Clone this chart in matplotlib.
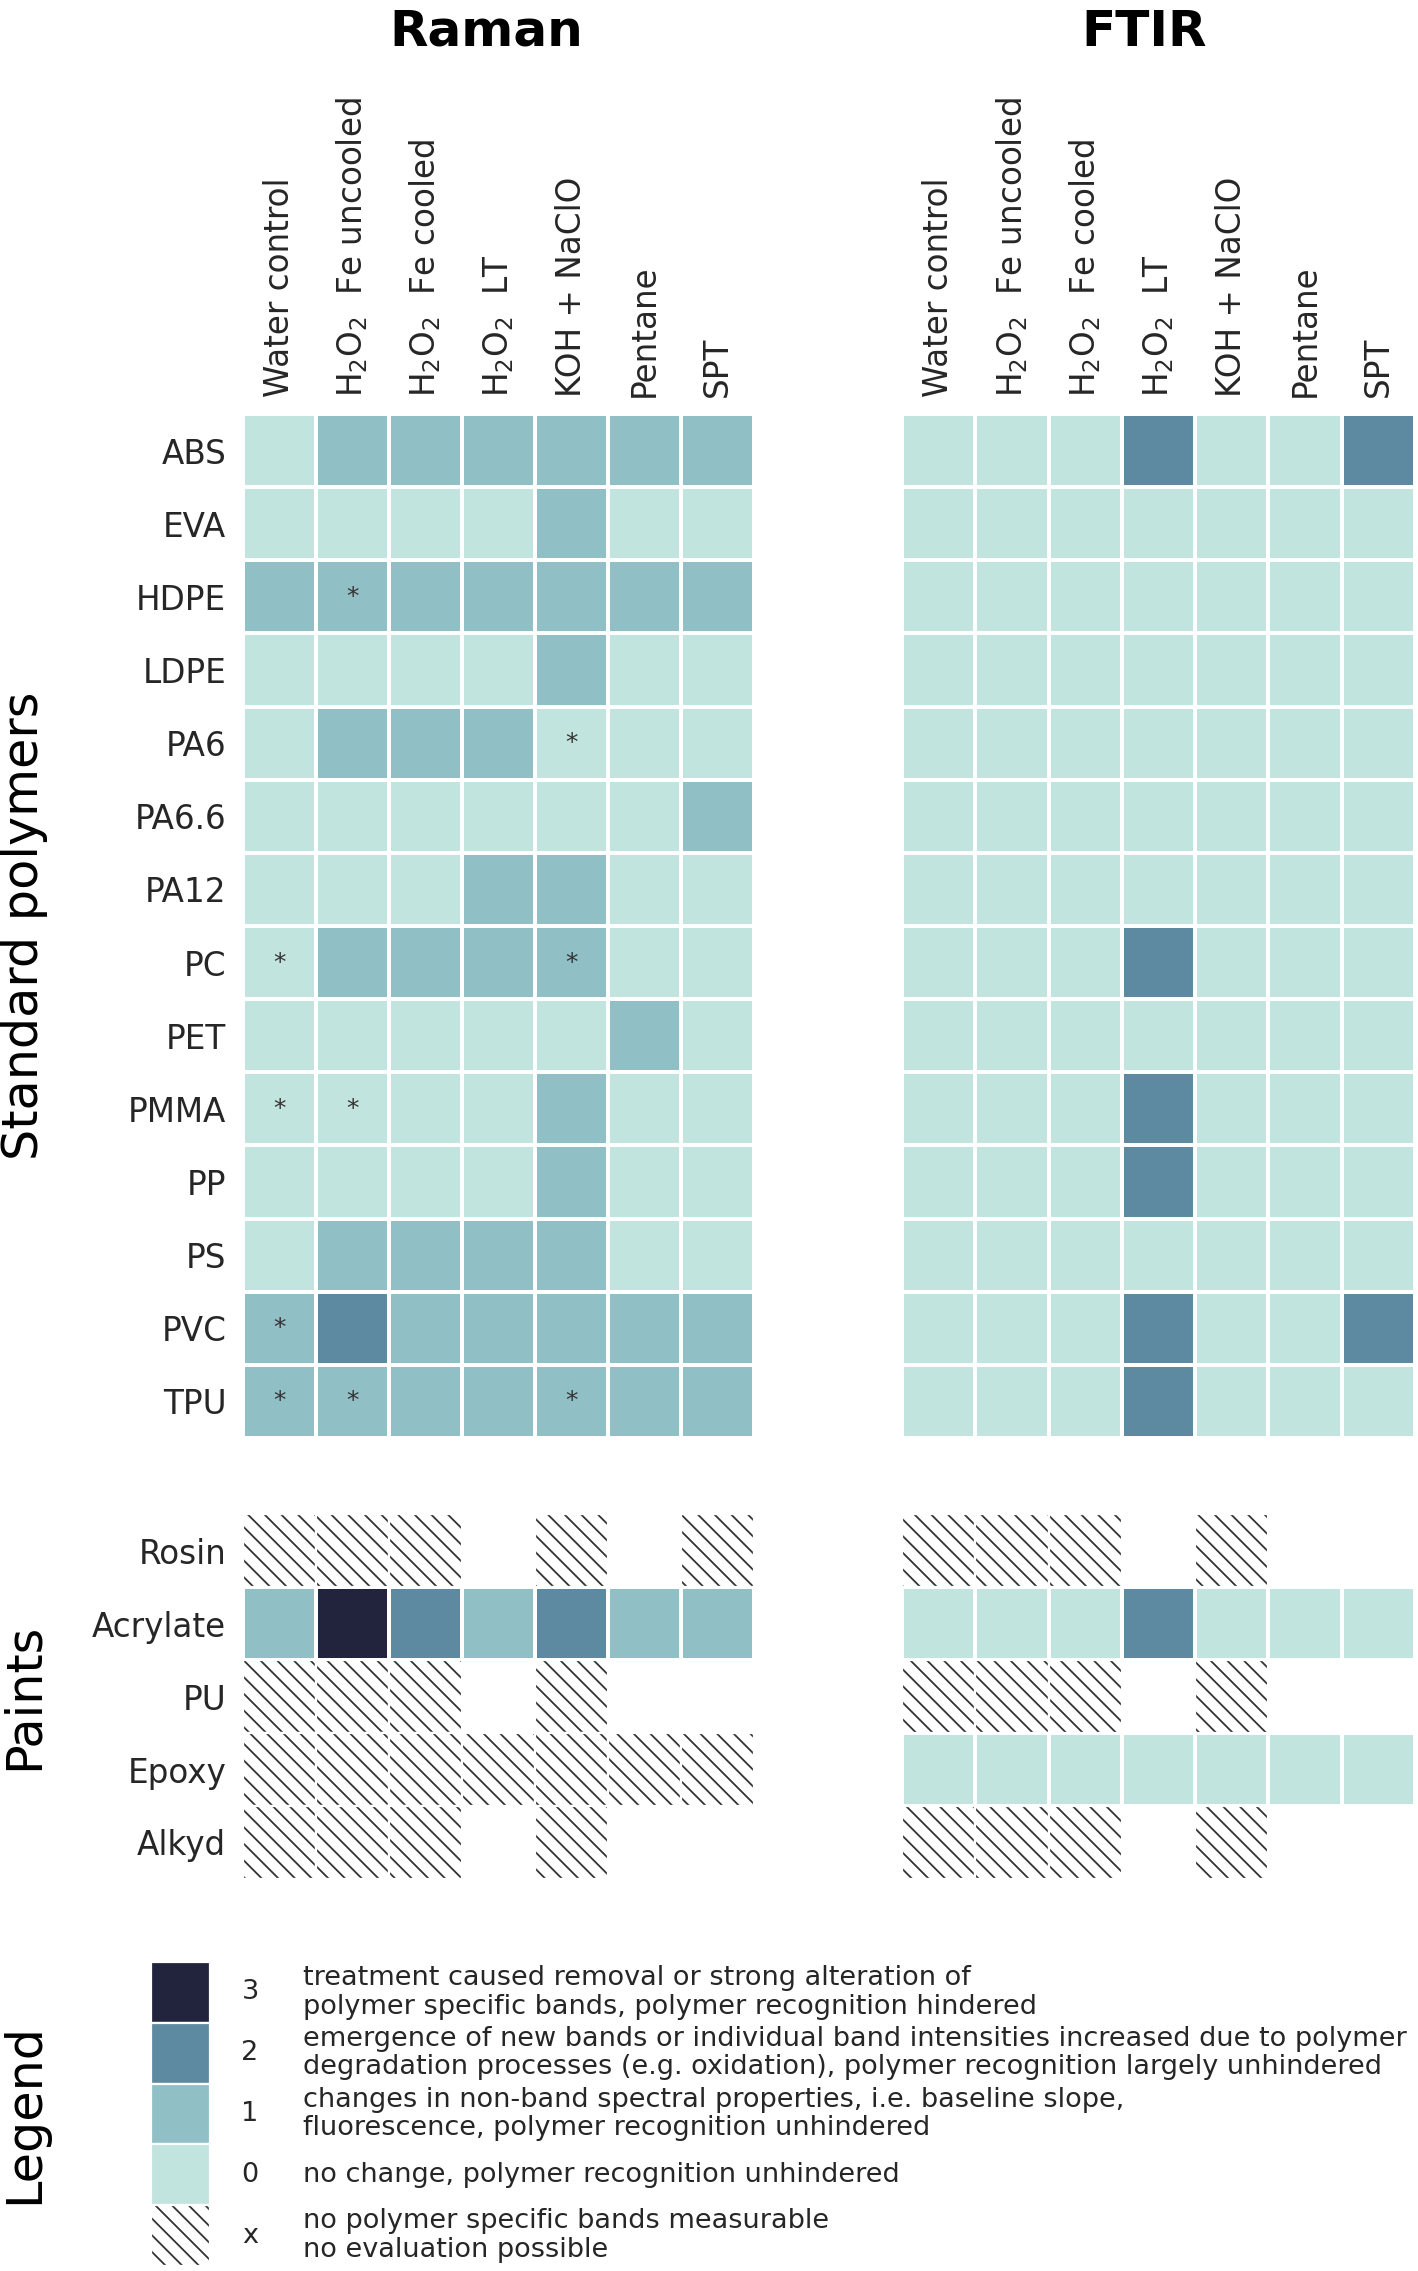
import numpy as np
import matplotlib.pyplot as plt
from matplotlib.colors import ListedColormap, BoundaryNorm
from matplotlib.patches import Rectangle

plt.rcParams['font.family'] = 'DejaVu Sans'
plt.rcParams['hatch.linewidth'] = 1.3

X = -1       # no polymer specific bands measurable
N = np.nan   # not measured

treatments = ['Water control', r'H$_2$O$_2$  Fe uncooled', r'H$_2$O$_2$  Fe cooled',
              r'H$_2$O$_2$  LT', 'KOH + NaClO', 'Pentane', 'SPT']
polymers = ['ABS', 'EVA', 'HDPE', 'LDPE', 'PA6', 'PA6.6', 'PA12', 'PC', 'PET',
            'PMMA', 'PP', 'PS', 'PVC', 'TPU']
paints = ['Rosin', 'Acrylate', 'PU', 'Epoxy', 'Alkyd']

raman_polymers = [
    [0, 1, 1, 1, 1, 1, 1],
    [0, 0, 0, 0, 1, 0, 0],
    [1, 1, 1, 1, 1, 1, 1],
    [0, 0, 0, 0, 1, 0, 0],
    [0, 1, 1, 1, 0, 0, 0],
    [0, 0, 0, 0, 0, 0, 1],
    [0, 0, 0, 1, 1, 0, 0],
    [0, 1, 1, 1, 1, 0, 0],
    [0, 0, 0, 0, 0, 1, 0],
    [0, 0, 0, 0, 1, 0, 0],
    [0, 0, 0, 0, 1, 0, 0],
    [0, 1, 1, 1, 1, 0, 0],
    [1, 2, 1, 1, 1, 1, 1],
    [1, 1, 1, 1, 1, 1, 1],
]
raman_stars = [
    [0, 0, 0, 0, 0, 0, 0],
    [0, 0, 0, 0, 0, 0, 0],
    [0, 1, 0, 0, 0, 0, 0],
    [0, 0, 0, 0, 0, 0, 0],
    [0, 0, 0, 0, 1, 0, 0],
    [0, 0, 0, 0, 0, 0, 0],
    [0, 0, 0, 0, 0, 0, 0],
    [1, 0, 0, 0, 1, 0, 0],
    [0, 0, 0, 0, 0, 0, 0],
    [1, 1, 0, 0, 0, 0, 0],
    [0, 0, 0, 0, 0, 0, 0],
    [0, 0, 0, 0, 0, 0, 0],
    [1, 0, 0, 0, 0, 0, 0],
    [1, 1, 0, 0, 1, 0, 0],
]
ftir_polymers = [
    [0, 0, 0, 2, 0, 0, 2],
    [0, 0, 0, 0, 0, 0, 0],
    [0, 0, 0, 0, 0, 0, 0],
    [0, 0, 0, 0, 0, 0, 0],
    [0, 0, 0, 0, 0, 0, 0],
    [0, 0, 0, 0, 0, 0, 0],
    [0, 0, 0, 0, 0, 0, 0],
    [0, 0, 0, 2, 0, 0, 0],
    [0, 0, 0, 0, 0, 0, 0],
    [0, 0, 0, 2, 0, 0, 0],
    [0, 0, 0, 2, 0, 0, 0],
    [0, 0, 0, 0, 0, 0, 0],
    [0, 0, 0, 2, 0, 0, 2],
    [0, 0, 0, 2, 0, 0, 0],
]
raman_paints = [
    [X, X, X, N, X, N, X],
    [1, 3, 2, 1, 2, 1, 1],
    [X, X, X, N, X, N, N],
    [X, X, X, X, X, X, X],
    [X, X, X, N, X, N, N],
]
ftir_paints = [
    [X, X, X, N, X, N, N],
    [0, 0, 0, 2, 0, 0, 0],
    [X, X, X, N, X, N, N],
    [0, 0, 0, 0, 0, 0, 0],
    [X, X, X, N, X, N, N],
]

legend_levels = ['3', '2', '1', '0', 'x']
legend_text = [
    'treatment caused removal or strong alteration of\npolymer specific bands, polymer recognition hindered',
    'emergence of new bands or individual band intensities increased due to polymer\n'
    'degradation processes (e.g. oxidation), polymer recognition largely unhindered',
    'changes in non-band spectral properties, i.e. baseline slope,\nfluorescence, polymer recognition unhindered',
    'no change, polymer recognition unhindered',
    'no polymer specific bands measurable\nno evaluation possible',
]

colors = ['#c2e4de', '#91bfc6', '#5e8aa1', '#22243e']
cmap = ListedColormap(colors)
norm = BoundaryNorm([-0.5, 0.5, 1.5, 2.5, 3.5], 4)
hatch = '\\\\'
txt_col = '#262626'

W, H = 1418, 2271
fig = plt.figure(figsize=(W / 100, H / 100), dpi=100)


def px_axes(x0, y0, x1, y1):
    return fig.add_axes([x0 / W, 1 - y1 / H, (x1 - x0) / W, (y1 - y0) / H])


def draw_grid(ax, values, rows, stars=None, cols=None):
    vals = np.array(values, dtype=float)
    nr, nc = vals.shape
    shown = np.ma.masked_where(~(vals >= 0), vals)
    ax.pcolormesh(np.arange(nc + 1), np.arange(nr + 1), shown, cmap=cmap, norm=norm,
                  edgecolors='white', linewidth=1.6)
    for i, j in zip(*np.where(vals == X)):
        ax.add_patch(Rectangle((j, i), 1, 1, facecolor='white', edgecolor='#333333',
                               hatch=hatch, linewidth=0))
        ax.add_patch(Rectangle((j, i), 1, 1, fill=False, edgecolor='white', linewidth=1.6))
    if stars is not None:
        for i, j in zip(*np.where(np.array(stars) == 1)):
            ax.text(j + 0.5, i + 0.5, '*', ha='center', va='center', fontsize=18, color='#333333')
    ax.set_xlim(0, nc)
    ax.set_ylim(nr, 0)
    ax.set_yticks(np.arange(nr) + 0.5, rows, fontsize=23.5, color=txt_col)
    if cols is not None:
        ax.xaxis.tick_top()
        ax.set_xticks(np.arange(nc) + 0.5, cols, rotation=90, fontsize=23.5, color=txt_col)
    else:
        ax.set_xticks([])
    ax.tick_params(length=0, pad=12)
    for s in ax.spines.values():
        s.set_visible(False)


ax1 = px_axes(243, 414, 754, 1438)
draw_grid(ax1, raman_polymers, polymers, raman_stars, treatments)
ax2 = px_axes(902, 414, 1415, 1438)
draw_grid(ax2, ftir_polymers, [''] * len(polymers), None, treatments)
ax3 = px_axes(243, 1514, 754, 1879)
draw_grid(ax3, raman_paints, paints)
ax4 = px_axes(902, 1514, 1415, 1879)
draw_grid(ax4, ftir_paints, [''] * len(paints))

fig.text(486 / W, 1 - 32 / H, 'Raman', fontsize=36, fontweight='bold', ha='center', va='center')
fig.text(1144 / W, 1 - 32 / H, 'FTIR', fontsize=36, fontweight='bold', ha='center', va='center')
fig.text(24 / W, 1 - 926 / H, 'Standard polymers', fontsize=35.5, rotation=90, ha='center', va='center')
fig.text(24 / W, 1 - 1696 / H, 'Paints', fontsize=35.5, rotation=90, ha='center', va='center')
fig.text(24 / W, 1 - 2114 / H, 'Legend', fontsize=35.5, rotation=90, ha='center', va='center')

# legend
axl = px_axes(151, 1962, 210, 2266)
for k, lev in enumerate(legend_levels):
    if lev == 'x':
        axl.add_patch(Rectangle((0, k), 1, 1, facecolor='white', edgecolor='#333333',
                                hatch=hatch, linewidth=0))
        axl.add_patch(Rectangle((0, k), 1, 1, fill=False, edgecolor='white', linewidth=1.6))
    else:
        axl.add_patch(Rectangle((0, k), 1, 1, facecolor=colors[int(lev)], edgecolor='white',
                                linewidth=1.6))
    axl.text(1.68, k + 0.5, lev, ha='center', va='center', fontsize=19.5, color=txt_col, clip_on=False)
    axl.text(2.58, k + 0.5, legend_text[k], ha='left', va='center', fontsize=19.5, color=txt_col,
             linespacing=1.12, clip_on=False)
axl.set_xlim(0, 1)
axl.set_ylim(len(legend_levels), 0)
axl.axis('off')

fig.savefig('out.png', dpi=100)
